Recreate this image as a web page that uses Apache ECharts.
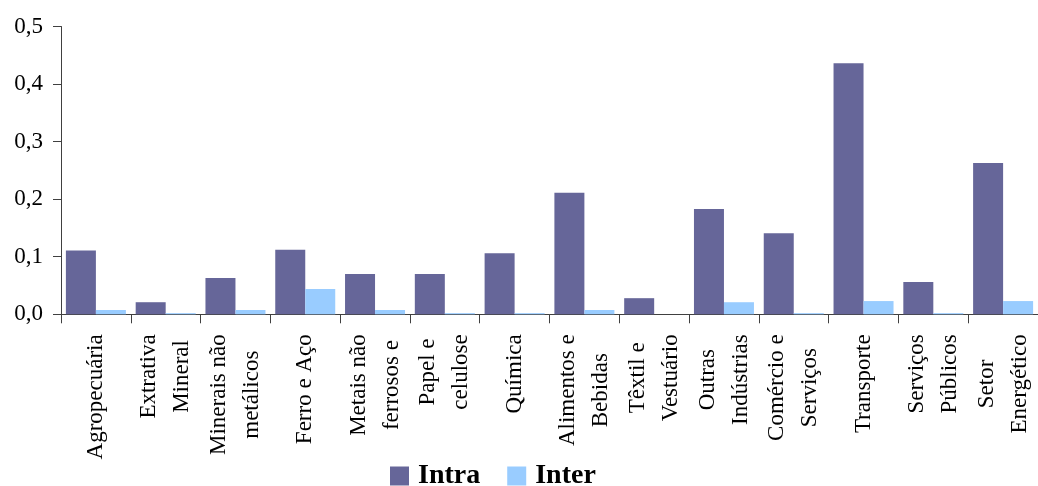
<!DOCTYPE html>
<html>
<head>
<meta charset="utf-8">
<script src="https://cdn.jsdelivr.net/npm/echarts@6/dist/echarts.min.js"></script>
<style>
  html, body { margin: 0; padding: 0; background: #fff; }
  #chart { width: 1038px; height: 486px; }
</style>
</head>
<body>
<div id="chart"></div>
<script>
// Sectors (two-line labels use \n)
const categories = [
  'Agropecuária',
  'Extrativa\nMineral',
  'Minerais não\nmetálicos',
  'Ferro e Aço',
  'Metais não\nferrosos e',
  'Papel e\ncelulose',
  'Química',
  'Alimentos e\nBebidas',
  'Têxtil e\nVestuário',
  'Outras\nIndústrias',
  'Comércio e\nServiços',
  'Transporte',
  'Serviços\nPúblicos',
  'Setor\nEnergético'
];

const intraValues = [0.111, 0.021, 0.063, 0.112, 0.070, 0.070, 0.106, 0.211, 0.028, 0.183, 0.141, 0.436, 0.056, 0.263];
const interValues = [0.0075, 0.002, 0.0075, 0.044, 0.0075, 0.002, 0.002, 0.0075, 0, 0.021, 0.002, 0.023, 0.002, 0.023];

const yTicks = { min: 0, max: 0.5, interval: 0.1 };

const serif = '"Liberation Serif", "Times New Roman", serif';
const axisColor = '#404040';

const chart = echarts.init(document.getElementById('chart'), null, { renderer: 'canvas' });

chart.setOption({
  animation: false,
  backgroundColor: '#ffffff',
  grid: { left: 61, right: -11, top: 26.5, bottom: 171.7, containLabel: false },
  legend: {
    data: ['Intra', 'Inter'],
    left: 390,
    top: 462,
    padding: 0,
    icon: 'rect',
    itemWidth: 19,
    itemHeight: 19,
    itemGap: 27,
    textStyle: {
      fontFamily: serif,
      fontSize: 28,
      fontWeight: 'bold',
      color: '#000',
      padding: [0, 0, 0, 4]
    }
  },
  xAxis: {
    type: 'category',
    data: categories,
    boundaryGap: true,
    axisLine: { show: true, lineStyle: { color: axisColor, width: 1 } },
    axisTick: { show: true, length: 9, lineStyle: { color: axisColor } },
    axisLabel: {
      interval: 0,
      rotate: 90,
      margin: 20,
      color: '#000',
      fontFamily: serif,
      fontSize: 23,
      lineHeight: 33,
      formatter: function (v) {
        return v.split('\n').map(function (s) { return '{c|' + s + '}'; }).join('\n');
      },
      rich: {
        c: { align: 'center', fontFamily: serif, fontSize: 23, lineHeight: 33, color: '#000' }
      }
    },
    splitLine: { show: false }
  },
  yAxis: {
    type: 'value',
    min: yTicks.min,
    max: yTicks.max,
    interval: yTicks.interval,
    axisLine: { show: true, lineStyle: { color: axisColor, width: 1 } },
    axisTick: { show: true, length: 8, lineStyle: { color: axisColor } },
    axisLabel: {
      margin: 18,
      color: '#000',
      fontFamily: serif,
      fontSize: 23,
      formatter: function (v) { return v.toFixed(1).replace('.', ','); }
    },
    splitLine: { show: false }
  },
  series: [
    {
      name: 'Intra',
      type: 'bar',
      data: intraValues,
      barWidth: 30,
      barGap: '0%',
      itemStyle: { color: '#666699' }
    },
    {
      name: 'Inter',
      type: 'bar',
      data: interValues,
      barWidth: 30,
      barGap: '0%',
      itemStyle: { color: '#99CCFF' }
    }
  ]
});
</script>
</body>
</html>
